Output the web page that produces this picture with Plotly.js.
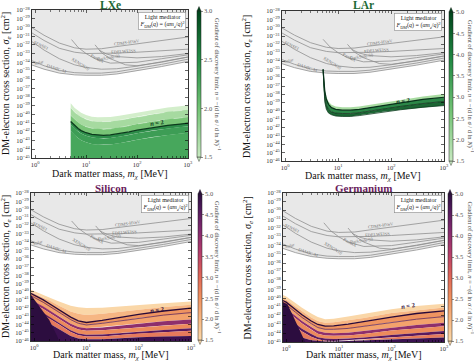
<!DOCTYPE html>
<html><head><meta charset="utf-8">
<script src="https://cdn.plot.ly/plotly-3.0.1.min.js"></script>
<style>html,body{margin:0;padding:0;background:#fff}#chart{width:474px;height:362px}</style>
</head><body><div id="chart"></div>
<script>
// ================= DATA (masses in MeV, cross sections as log10(sigma/cm^2)) =================
const xTickVals = [1, 10, 100, 1000];
const xTickText = ['10<sup>0</sup>', '10<sup>1</sup>', '10<sup>2</sup>', '10<sup>3</sup>'];
const yExp45 = [-28,-29,-30,-31,-32,-33,-34,-35,-36,-37,-38,-39,-40,-41,-42,-43,-44,-45];
const yExp46 = [-28,-29,-30,-31,-32,-33,-34,-35,-36,-37,-38,-39,-40,-41,-42,-43,-44,-45,-46];
const cbTicksLXe = [1.5, 2.0, 2.5, 3.0];
const cbTicks5 = [1.5, 2.0, 2.5, 3.0, 3.5, 4.0, 4.5, 5.0];

// existing limits (grey)
const limMass   = [0.85, 1.5, 3, 6, 10, 20, 40, 100, 300, 1000];
const limCDMS   = [-30.0, -30.9, -31.8, -32.35, -32.5, -32.45, -32.2, -31.9, -31.5, -31.1];
const limEDEL   = [-30.6, -31.5, -32.4, -32.85, -33.0, -33.0, -32.95, -32.85, -32.7, -32.5];
const limSENSEI = [-31.6, -32.6, -33.6, -34.3, -34.6, -34.8, -34.75, -34.45, -33.95, -33.4];
const limSolar  = [-33.8, -34.4, -34.95, -35.2, -35.25, -35.25, -35.1, -34.75, -34.25, -33.65];
const limDAMIC  = [-34.3, -34.8, -35.25, -35.45, -35.5, -35.5, -35.35, -35.0, -34.5, -33.9];
const xe10Mass  = [5.2, 7, 10, 15, 30, 100, 300, 1000];
const limXE10   = [-31.4, -32.3, -33.0, -33.6, -34.1, -34.0, -33.6, -33.15];
const pandaMass = [15, 20, 30, 60, 100, 300, 1000];
const limPanda  = [-32.0, -32.9, -33.6, -34.3, -34.4, -34.0, -33.4];
const ds50Mass  = [18, 25, 40, 100, 300, 1000];
const limDS50   = [-32.6, -33.05, -33.35, -33.5, -33.35, -33.0];

// LXe discovery-limit region
const lxMass = [5, 6, 7, 8, 10, 13, 17, 22, 30, 45, 70, 100, 200, 400, 700, 1000];
const lxTop  = [-38.7, -39.25, -39.55, -39.8, -40.05, -40.25, -40.33, -40.35, -40.3, -40.15, -39.95, -39.75, -39.45, -39.2, -39.05, -38.95];
const lxA    = [-39.2, -39.75, -40.05, -40.3, -40.55, -40.75, -40.83, -40.85, -40.8, -40.65, -40.45, -40.25, -39.95, -39.7, -39.55, -39.45];
const lxB    = [-40.1, -40.6, -40.9, -41.15, -41.4, -41.58, -41.67, -41.7, -41.65, -41.5, -41.3, -41.1, -40.8, -40.55, -40.4, -40.3];
const lxN2   = [-40.8, -41.3, -41.6, -41.85, -42.1, -42.28, -42.37, -42.4, -42.35, -42.2, -42.0, -41.8, -41.5, -41.25, -41.1, -41.0];
const lxC    = [-41.15, -41.65, -41.95, -42.2, -42.45, -42.63, -42.72, -42.75, -42.7, -42.55, -42.35, -42.15, -41.85, -41.6, -41.45, -41.35];
const lxD    = [-41.9, -42.4, -42.7, -42.95, -43.2, -43.38, -43.47, -43.5, -43.45, -43.3, -43.1, -42.9, -42.6, -42.35, -42.2, -42.1];
const lxFloor = -45;

// LAr discovery-limit band
const arMass = [5.2, 5.35, 5.6, 6.0, 6.6, 7.5, 9, 12, 17, 25, 40, 70, 150, 400, 1000];
const arTop  = [-35.0, -36.0, -37.3, -38.3, -38.9, -39.25, -39.45, -39.55, -39.55, -39.45, -39.25, -39.0, -38.65, -38.25, -37.95];
const arN2   = [-35.0, -36.3, -37.6, -38.6, -39.2, -39.6, -39.8, -39.9, -39.9, -39.8, -39.6, -39.35, -39.0, -38.6, -38.35];
const arMid  = [-35.0, -36.9, -38.3, -39.3, -39.8, -40.1, -40.25, -40.3, -40.3, -40.2, -40.0, -39.75, -39.45, -39.1, -38.85];
const arBot  = [-35.0, -37.5, -38.9, -39.8, -40.25, -40.45, -40.6, -40.65, -40.65, -40.55, -40.35, -40.1, -39.85, -39.55, -39.35];

// Silicon
const siMass = [0.85, 1, 1.5, 2, 3, 5, 7, 10, 20, 50, 100, 300, 1000];
const siTop  = [-39.75, -39.95, -40.4, -40.75, -41.2, -41.7, -41.9, -42.0, -41.95, -41.75, -41.6, -41.4, -41.2];
const siHalf = [-40.0, -40.2, -40.7, -41.1, -41.7, -42.4, -42.7, -42.85, -42.7, -42.4, -42.15, -41.85, -41.6];
const siN2   = [-40.2, -40.4, -41.0, -41.5, -42.2, -43.1, -43.55, -43.75, -43.5, -43.05, -42.75, -42.35, -42.0];
const siD1   = [-40.5, -40.7, -41.3, -41.8, -42.5, -43.4, -43.85, -44.05, -43.85, -43.5, -43.2, -42.85, -42.55];
const siPa   = [-41.0, -41.2, -41.8, -42.3, -43.0, -43.9, -44.3, -44.45, -44.35, -44.1, -43.9, -43.6, -43.4];
const siPb   = [-41.3, -41.5, -42.1, -42.6, -43.3, -44.2, -44.6, -44.75, -44.7, -44.5, -44.35, -44.1, -43.9];
const siQa   = [-41.8, -42.0, -42.6, -43.1, -43.8, -44.7, -45.1, -45.25, -45.2, -45.0, -44.85, -44.65, -44.45];
const siQb   = [-42.0, -42.2, -42.8, -43.3, -44.0, -44.9, -45.3, -45.45, -45.45, -45.25, -45.1, -44.95, -44.75];
const siRa   = [-42.6, -42.8, -43.4, -43.9, -44.6, -45.4, -45.7, -45.8, -45.8, -45.65, -45.55, -45.45, -45.4];
const siFloor = -46;
const siTriMass = [0.85, 1.26, 1.95, 2.8, 3.0, 0.85];
const siTriSig  = [-40.3, -41.8, -43.45, -45.5, -46, -46];

// Germanium
const geMass = [0.85, 1, 1.5, 2, 3, 4, 5.5, 8, 15, 30, 100, 300, 1000];
const geTop  = [-39.6, -39.8, -40.55, -41.1, -41.75, -42.15, -42.4, -42.35, -42.1, -41.8, -41.25, -40.9, -40.65];
const geHalf = [-39.95, -40.15, -40.95, -41.5, -42.2, -42.6, -42.8, -42.75, -42.55, -42.25, -41.7, -41.35, -41.05];
const geN2   = [-40.25, -40.45, -41.3, -41.9, -42.6, -43.0, -43.2, -43.15, -42.95, -42.65, -42.15, -41.75, -41.45];
const geD1   = [-40.55, -40.75, -41.6, -42.2, -42.9, -43.35, -43.55, -43.55, -43.45, -43.2, -42.75, -42.4, -42.1];
const gePa   = [-41.0, -41.2, -42.0, -42.6, -43.3, -43.75, -43.95, -44.0, -43.95, -43.75, -43.35, -43.05, -42.8];
const gePb   = [-41.3, -41.5, -42.3, -42.9, -43.6, -44.05, -44.25, -44.3, -44.25, -44.1, -43.7, -43.45, -43.2];
const geQa   = [-41.9, -42.1, -42.9, -43.5, -44.1, -44.45, -44.6, -44.65, -44.6, -44.5, -44.2, -43.95, -43.75];
const geQb   = [-42.2, -42.4, -43.2, -43.8, -44.4, -44.7, -44.85, -44.9, -44.85, -44.75, -44.5, -44.3, -44.1];
const geRa   = [-43.0, -43.2, -44.0, -44.5, -44.8, -44.9, -44.95, -44.95, -44.9, -44.85, -44.75, -44.6, -44.5];
const geFloor = -45;
const geTriMass = [0.85, 1.06, 1.3, 1.6, 1.9, 2.2, 2.3, 0.85];
const geTriSig  = [-40.4, -40.7, -41.8, -43.0, -44.1, -44.9, -45, -45];

// ================= DRAWING =================
const SERIF = '"Liberation Serif", "DejaVu Serif", serif';
const W = 474, H = 362;
const px = p => p / W, py = p => 1 - p / H;
const P = v => v.map(e => Math.pow(10, e));
const traces = [];
const annotations = [];
const shapes = [];
function ann(o) { annotations.push(Object.assign({showarrow: false, xanchor: 'center', yanchor: 'middle'}, o)); }

function band(xs, up, lo, color, ax) {
  traces.push({x: xs.concat(xs.slice().reverse()), y: P(up).concat(P(lo).slice().reverse()),
    type: 'scatter', mode: 'lines', fill: 'toself', fillcolor: color, line: {width: 0, color: color},
    hoverinfo: 'skip', showlegend: false, xaxis: 'x' + ax, yaxis: 'y' + ax});
}
function line(xs, ys, color, width, ax, dash) {
  traces.push({x: xs, y: P(ys), type: 'scatter', mode: 'lines', line: {color: color, width: width, dash: dash || 'solid'},
    hoverinfo: 'skip', showlegend: false, xaxis: 'x' + ax, yaxis: 'y' + ax});
}
const flat = (xs, v) => xs.map(() => v);

function greyLimits(ax) {
  band(limMass, flat(limMass, -27.5), limDAMIC, '#e8e8e8', ax);
  const c = '#8f8f8f', w = 0.8;
  line(limMass, limCDMS, c, w, ax); line(limMass, limEDEL, c, w, ax);
  line(limMass, limSENSEI, c, w, ax); line(limMass, limSolar, c, w, ax);
  line(limMass, limDAMIC, c, w, ax); line(xe10Mass, limXE10, c, w, ax);
  line(pandaMass, limPanda, c, w, ax); line(ds50Mass, limDS50, c, w, ax);
  const labs = [['CDMS-HVeV', 1.8, -31.75, -8], ['EDELWEISS', 1.73, -32.75, -4], ['DarkSide-50', 1.45, -33.45, -8],
    ['PandaX', 1.22, -33.6, 28], ['XENON10', 0.9, -34.3, 32], ['SENSEI', 0.12, -32.1, 25],
    ['Solar', 0.08, -34.0, -15], ['DAMIC-M', 0.42, -34.75, 18]];
  const xa = 'x' + ax, ya = 'y' + ax;
  labs.forEach(l => ann({text: l[0], x: l[1], y: l[2], xref: xa, yref: ya,
    textangle: l[3], font: {family: SERIF, size: 4.5, color: '#777'}}));
  ann({text: 'Light mediator<br><i>F</i><sub>DM</sub>(<i>q</i>) = (<i>αm</i><sub><i>e</i></sub>/<i>q</i>)<sup>2</sup>',
    xref: xa + ' domain', yref: ya + ' domain', x: 0.985, y: 0.985, xanchor: 'right', yanchor: 'top',
    align: 'center', bgcolor: '#ffffff', bordercolor: '#888', borderwidth: 0.6, borderpad: 1,
    font: {family: SERIF, size: 6, color: '#222'}});
}

[ '', '2', '3', '4' ].forEach(greyLimits);

// LXe
band(lxMass, lxTop, lxA, '#d3eecb', '');
band(lxMass, lxA, lxB, '#a6daa0', '');
band(lxMass, lxB, lxN2, '#78c476', '');
band(lxMass, lxN2, lxC, '#2e8d4a', '');
band(lxMass, lxC, lxD, '#3d9d55', '');
band(lxMass, lxD, flat(lxMass, lxFloor), '#47a75c', '');
line(lxMass, lxA, 'rgba(255,255,255,0.55)', 0.6, '', 'dash');
line(lxMass, lxB, 'rgba(255,255,255,0.5)', 0.6, '', 'dash');
line(lxMass, lxN2, '#0b3a1c', 1.3, '');

// LAr
band(arMass, arTop, arN2, '#a9dca2', '2');
band(arMass, arN2, arMid, '#2c8748', '2');
band(arMass, arMid, arBot, '#1c6634', '2');
line(arMass, arMid, '#0b2a15', 0.7, '2');
line(arMass, arBot, '#0e3d20', 0.8, '2');
line(arMass, arN2, '#08301a', 1.2, '2');

// Silicon & Germanium
function semi(ax, m, top, half, n2, d1, pa, pb, qa, qb, ra, floor, triM, triS) {
  band(m, top, half, '#fad7a8', ax);
  band(m, half, n2, '#f6b683', ax);
  band(m, n2, d1, '#ef9460', ax);
  band(m, d1, pa, '#f3a26c', ax);
  band(m, pa, pb, '#8e2f6c', ax);
  band(m, pb, qa, '#ec8a5c', ax);
  band(m, qa, qb, '#5a1a5e', ax);
  band(m, qb, ra, '#e57a5c', ax);
  band(m, ra, flat(m, floor), '#3b1150', ax);
  line(m, d1, '#4a1455', 0.7, ax);
  traces.push({x: triM, y: P(triS), type: 'scatter', mode: 'lines', fill: 'toself', fillcolor: '#2c0d3f',
    line: {width: 0, color: '#2c0d3f'}, hoverinfo: 'skip', showlegend: false, xaxis: 'x' + ax, yaxis: 'y' + ax});
  line(m, n2, '#2a0a38', 1.3, ax);
}
semi('3', siMass, siTop, siHalf, siN2, siD1, siPa, siPb, siQa, siQb, siRa, siFloor, siTriMass, siTriSig);
semi('4', geMass, geTop, geHalf, geN2, geD1, gePa, gePb, geQa, geQb, geRa, geFloor, geTriMass, geTriSig);

// n = 2 labels
[['', 2.39, -40.95, '#0b3a1c', -8], ['2', 2.23, -38.7, '#08301a', -8], ['3', 2.35, -42.15, '#2a0a38', -8], ['4', 2.32, -40.85, '#2a0a38', -8]]
  .forEach(l => ann({text: '<b><i>n</i> = 2</b>', x: l[1], y: l[2], xref: 'x' + l[0], yref: 'y' + l[0],
    textangle: l[4], font: {family: SERIF, size: 6.5, color: l[3]}}));

// colorbars (an invisible in-range point carries each colour scale)
const greens = [[0, '#c7e9c0'], [0.33, '#74c476'], [0.67, '#238b45'], [1, '#00441b']];
const magmaR = [[0, '#fcd9a9'], [0.15, '#f8b680'], [0.3, '#f08f5e'], [0.45, '#de6358'], [0.6, '#b63d6c'],
  [0.75, '#842a70'], [0.9, '#501a5c'], [1, '#2c0f3f']];
function cbar(ax, cs, ticks, xL, yT, yB, topCol, botCol) {
  traces.push({x: [10], y: [1e-30], type: 'scatter', mode: 'markers', hoverinfo: 'skip', showlegend: false,
    xaxis: 'x' + ax, yaxis: 'y' + ax,
    marker: {color: [ticks[0]], size: 0.1, opacity: 0, cmin: ticks[0], cmax: ticks[ticks.length - 1], colorscale: cs, showscale: true,
      colorbar: {x: px(xL), xanchor: 'left', y: py((yT + yB) / 2), yanchor: 'middle', len: (yB - yT) / H, lenmode: 'fraction',
        thickness: 4, thicknessmode: 'pixels', xpad: 0, ypad: 0, outlinewidth: 0.5, outlinecolor: '#222',
        tickmode: 'array', tickvals: ticks, ticktext: ticks.map(t => t.toFixed(1)), ticks: 'outside', ticklen: 2,
        tickwidth: 0.5, tickcolor: '#222', tickfont: {family: SERIF, size: 6.5, color: '#555'}}}});
  shapes.push({type: 'path', xref: 'paper', yref: 'paper', fillcolor: topCol, line: {width: 0.4, color: '#222'},
    path: `M ${px(xL)} ${py(yT)} L ${px(xL + 4)} ${py(yT)} L ${px(xL + 2)} ${py(yT - 4.5)} Z`});
  shapes.push({type: 'path', xref: 'paper', yref: 'paper', fillcolor: botCol, line: {width: 0.4, color: '#222'},
    path: `M ${px(xL)} ${py(yB)} L ${px(xL + 4)} ${py(yB)} L ${px(xL + 2)} ${py(yB + 4.5)} Z`});
}
cbar('', greens, cbTicksLXe, 197, 11, 157, '#00441b', '#c7e9c0');
cbar('2', greens, cbTicks5, 449, 12, 161, '#00441b', '#c7e9c0');
cbar('3', magmaR, cbTicks5, 198, 194, 340, '#2c0f3f', '#fcd9a9');
cbar('4', magmaR, cbTicks5, 448, 194, 341, '#2c0f3f', '#fcd9a9');

// titles and axis labels
const panels = [
  {name: 'LXe', col: '#1d6a35', l: 32, r: 188, t: 10, b: 158, yt: 5.5, xt: 175, ylx: 6, cbx: 217, fs: 11.5},
  {name: 'LAr', col: '#1d6a35', l: 282, r: 444, t: 11, b: 161, yt: 5.5, xt: 176, ylx: 247, cbx: 470, fs: 11.5},
  {name: 'Silicon', col: '#6a1c5c', l: 31, r: 191, t: 193, b: 341, yt: 188, xt: 355, ylx: 6, cbx: 218, fs: 11},
  {name: 'Germanium', col: '#6a1c5c', l: 283, r: 444, t: 193, b: 342, yt: 188, xt: 355, ylx: 247, cbx: 470, fs: 11}];
panels.forEach(p => {
  ann({text: '<b>' + p.name + '</b>', xref: 'paper', yref: 'paper', x: px((p.l + p.r) / 2), y: py(p.yt),
    font: {family: SERIF, size: p.fs, color: p.col}});
  ann({text: 'Dark matter mass, <i>m</i><sub><i>χ</i></sub> [MeV]', xref: 'paper', yref: 'paper',
    x: px((p.l + p.r) / 2), y: py(p.xt), font: {family: SERIF, size: 10, color: '#111'}});
  ann({text: 'DM-electron cross section, <i>σ</i><sub><i>e</i></sub> [cm<sup>2</sup>]', xref: 'paper', yref: 'paper',
    x: px(p.ylx), y: py((p.t + p.b) / 2), textangle: -90, font: {family: SERIF, size: 10, color: '#111'}});
  ann({text: 'Gradient of discovery limit, <i>n</i> = −(d ln <i>σ</i> / d ln <i>N</i>)<sup>−1</sup>', xref: 'paper', yref: 'paper',
    x: px(p.cbx), y: py((p.t + p.b) / 2), textangle: 90, font: {family: SERIF, size: 6.5, color: '#444'}});
});

const xMinor = [2,3,4,5,6,7,8,9,20,30,40,50,60,70,80,90,200,300,400,500,600,700,800,900];
function xax(p, anchor) {
  return {type: 'log', domain: [px(p.l), px(p.r)], anchor: anchor, autorange: false, range: [-0.06, 3],
    tickmode: 'array', tickvals: xTickVals, ticktext: xTickText, ticks: 'inside', ticklen: 3, tickwidth: 0.6, tickcolor: '#000',
    showline: true, linecolor: '#000', linewidth: 0.8, mirror: 'ticks', showgrid: false, zeroline: false,
    tickfont: {family: SERIF, size: 6.5, color: '#333'}, fixedrange: true,
    minor: {tickmode: 'array', tickvals: xMinor, ticks: 'inside', ticklen: 1.6, tickwidth: 0.5, tickcolor: '#000', showgrid: false}};
}
function yax(p, anchor, exps) {
  return {type: 'log', domain: [py(p.b), py(p.t)], anchor: anchor, autorange: false, range: [exps[exps.length - 1], exps[0]],
    tickmode: 'array', tickvals: exps.map(e => Math.pow(10, e)), ticktext: exps.map(e => '10<sup>−' + (-e) + '</sup>'),
    ticks: 'inside', ticklen: 3, tickwidth: 0.6, tickcolor: '#000',
    showline: true, linecolor: '#000', linewidth: 0.8, mirror: 'ticks', showgrid: false, zeroline: false,
    tickfont: {family: SERIF, size: 6.5, color: '#333'}, fixedrange: true};
}

const layout = {
  width: W, height: H, margin: {l: 0, r: 0, t: 0, b: 0}, paper_bgcolor: '#fff', plot_bgcolor: '#fff', showlegend: false,
  xaxis: xax(panels[0], 'y'), yaxis: yax(panels[0], 'x', yExp45),
  xaxis2: xax(panels[1], 'y2'), yaxis2: yax(panels[1], 'x2', yExp46),
  xaxis3: xax(panels[2], 'y3'), yaxis3: yax(panels[2], 'x3', yExp46),
  xaxis4: xax(panels[3], 'y4'), yaxis4: yax(panels[3], 'x4', yExp45),
  annotations: annotations, shapes: shapes
};
Plotly.newPlot('chart', traces, layout, {staticPlot: true, displayModeBar: false});
</script></body></html>
